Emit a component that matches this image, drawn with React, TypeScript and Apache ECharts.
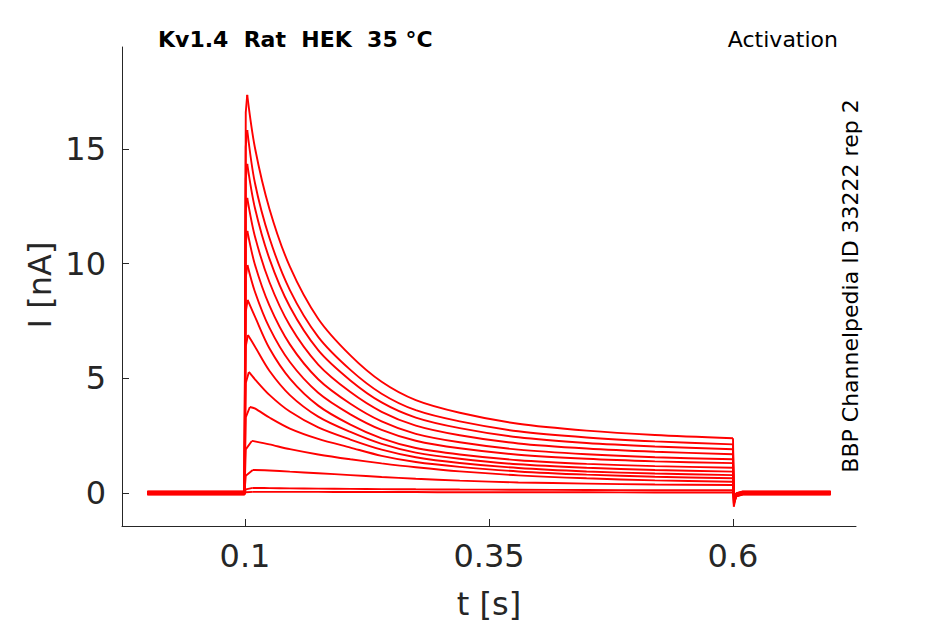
import React, { useEffect, useRef } from "react";
import * as echarts from "echarts";

// Sample times (s) of the decay phase
const DECAY_T = [0.11, 0.125, 0.146, 0.175, 0.208, 0.24, 0.275, 0.32, 0.38, 0.45, 0.52, 0.6];

// Peak currents (nA) and the time of each peak
const PEAKS = [17.36, 15.83, 14.35, 12.87, 11.43, 9.94, 8.42, 6.89, 5.28, 3.75, 2.27, 1.0, 0.22, 0.05];
const PEAK_T = [0.1023, 0.1023, 0.1023, 0.1023, 0.1024, 0.1025, 0.1027, 0.103, 0.104, 0.105, 0.107, 0.108, 0.108, 0.108];
// Current just after onset (t = 0.1008)
const RISE_MID = [16.6, 15.1, 13.7, 12.3, 10.9, 9.4, 7.9, 6.4, 4.8, 3.3, 1.9, 0.75, 0.16, 0.03];

// Decay values (nA) at DECAY_T for each trace
const TRACES = [
  [15.1, 12.4, 9.87, 7.6, 6.0, 4.85, 4.05, 3.5, 3.02, 2.72, 2.53, 2.39],
  [13.56, 11.13, 8.85, 6.81, 5.37, 4.33, 3.61, 3.12, 2.69, 2.42, 2.25, 2.12],
  [12.46, 10.22, 8.12, 6.23, 4.91, 3.95, 3.29, 2.83, 2.43, 2.18, 2.03, 1.91],
  [11.22, 9.2, 7.3, 5.6, 4.4, 3.54, 2.94, 2.52, 2.16, 1.94, 1.8, 1.69],
  [9.99, 8.18, 6.48, 4.96, 3.89, 3.12, 2.58, 2.21, 1.89, 1.69, 1.56, 1.47],
  [8.8, 7.21, 5.71, 4.37, 3.43, 2.75, 2.28, 1.95, 1.67, 1.49, 1.38, 1.3],
  [7.71, 6.31, 4.99, 3.81, 2.98, 2.38, 1.96, 1.68, 1.43, 1.27, 1.17, 1.1],
  [6.4, 5.33, 4.27, 3.33, 2.66, 2.14, 1.76, 1.49, 1.25, 1.1, 1.0, 0.93],
  [4.97, 4.28, 3.55, 2.86, 2.33, 1.89, 1.56, 1.31, 1.09, 0.94, 0.85, 0.78],
  [3.69, 3.29, 2.81, 2.36, 1.98, 1.62, 1.35, 1.14, 0.94, 0.8, 0.71, 0.64],
  [2.25, 2.12, 1.91, 1.68, 1.47, 1.29, 1.12, 0.94, 0.77, 0.64, 0.55, 0.49],
  [1.0, 0.98, 0.93, 0.86, 0.78, 0.7, 0.62, 0.54, 0.46, 0.41, 0.37, 0.35],
  [0.22, 0.21, 0.2, 0.19, 0.18, 0.17, 0.16, 0.15, 0.14, 0.13, 0.12, 0.12],
  [0.05, 0.05, 0.05, 0.05, 0.04, 0.04, 0.04, 0.03, 0.03, 0.03, 0.02, 0.02],
];

// Holding-level offsets of each trace (nA) and the tail spike after the step
const BASE = [0.06, -0.05, 0.03, -0.07, 0.0, 0.05, -0.03, 0.07, -0.06, 0.02, -0.01, 0.04, -0.04, 0.01];
const SPIKE = [-0.6, -0.5, -0.45, -0.4, -0.35, -0.3, -0.25, -0.22, -0.18, -0.15, -0.12, -0.1, -0.06, -0.04];

const X_TICKS = [0.1, 0.35, 0.6];
const Y_TICKS = [0, 5, 10, 15];

const TITLE = "Kv1.4  Rat  HEK  35 °C";
const PROTOCOL = "Activation";
const SIDE = "BBP Channelpedia ID 33222 rep 2";

const FONT = "'DejaVu Sans', Verdana, sans-serif";
const INK = "#262626";
const RED = "#ff0000";

export default function App() {
  const ref = useRef<HTMLDivElement>(null);

  useEffect(() => {
    if (!ref.current) return;
    const chart = echarts.init(ref.current, undefined, { renderer: "svg" });

    const series: any[] = [];
    PEAKS.forEach((p, i) => {
      const b = BASE[i];
      const lineStyle = { color: RED, width: 1.9 };
      const common = { type: "line", showSymbol: false, symbol: "none", lineStyle, silent: true, z: 3 };
      series.push({
        ...common,
        data: [[0, b], [0.0995, b], [0.1, b], [0.1008, RISE_MID[i]], [PEAK_T[i], p]],
      });
      const decay: number[][] = [[PEAK_T[i], p]];
      DECAY_T.forEach((t, k) => {
        if (t > PEAK_T[i]) decay.push([t, TRACES[i][k]]);
      });
      series.push({ ...common, smooth: 0.3, data: decay });
      const end = TRACES[i][TRACES[i].length - 1];
      series.push({
        ...common,
        data: [[0.6, end], [0.6008, SPIKE[i]], [0.6035, b - 0.08], [0.61, b], [0.7, b]],
      });
    });

    chart.setOption({
      animation: false,
      grid: { left: 122, right: 89, top: 47, bottom: 98, containLabel: false },
      xAxis: {
        type: "value",
        min: -0.026,
        max: 0.726,
        axisLine: { show: true, onZero: false, lineStyle: { color: INK, width: 1 } },
        axisTick: { show: true, inside: true, length: 7, customValues: X_TICKS, lineStyle: { color: INK } },
        axisLabel: {
          customValues: X_TICKS,
          formatter: (v: number) => String(v),
          color: INK,
          fontSize: 32,
          fontFamily: FONT,
          margin: 14,
        },
        splitLine: { show: false },
      },
      yAxis: {
        type: "value",
        min: -1.44,
        max: 19.45,
        axisLine: { show: true, onZero: false, lineStyle: { color: INK, width: 1 } },
        axisTick: { show: true, inside: true, length: 7, customValues: Y_TICKS, lineStyle: { color: INK } },
        axisLabel: {
          customValues: Y_TICKS,
          formatter: (v: number) => String(v),
          color: INK,
          fontSize: 32,
          fontFamily: FONT,
          margin: 16,
        },
        splitLine: { show: false },
      },
      graphic: [
        {
          type: "text",
          left: 158,
          top: 28,
          style: { text: TITLE, font: `bold 22px ${FONT}`, fill: "#000" },
        },
        {
          type: "text",
          x: 838,
          y: 39,
          style: { text: PROTOCOL, font: `22px ${FONT}`, fill: "#000", align: "right", verticalAlign: "middle" },
        },
        {
          type: "text",
          x: 850,
          y: 286,
          rotation: Math.PI / 2,
          style: { text: SIDE, font: `22px ${FONT}`, fill: "#000", align: "center", verticalAlign: "middle" },
        },
        {
          type: "text",
          x: 489,
          y: 604,
          style: { text: "t [s]", font: `32px ${FONT}`, fill: INK, align: "center", verticalAlign: "middle" },
        },
        {
          type: "text",
          x: 40,
          y: 285,
          rotation: Math.PI / 2,
          style: { text: "I [nA]", font: `32px ${FONT}`, fill: INK, align: "center", verticalAlign: "middle" },
        },
      ],
      series,
    });

    return () => chart.dispose();
  }, []);

  return (
    <div
      ref={ref}
      style={{ position: "fixed", left: 0, top: 0, width: 945, height: 624, background: "#fff" }}
    />
  );
}
